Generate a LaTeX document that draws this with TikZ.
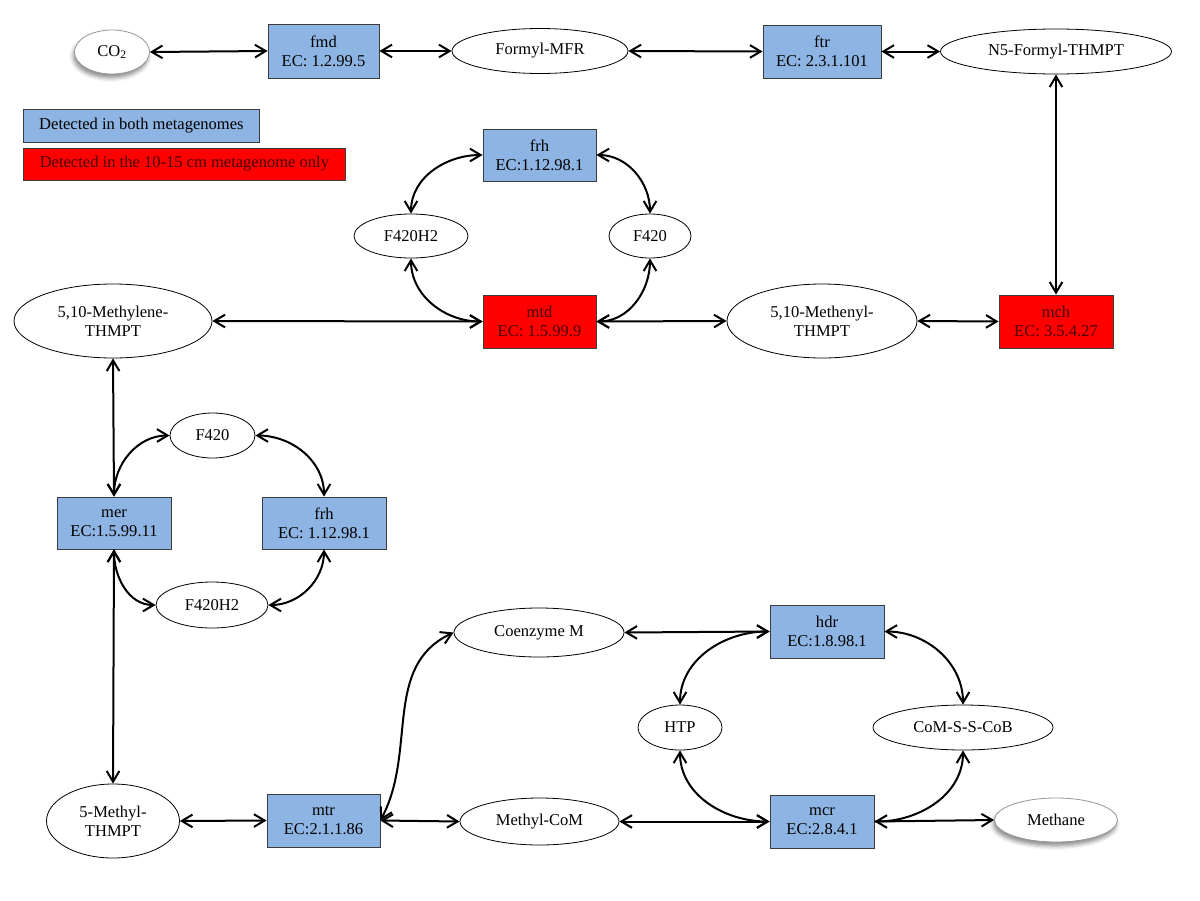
\documentclass[tikz,border=0pt]{standalone}
\usepackage{fontspec}
\setmainfont{Liberation Serif}
\usetikzlibrary{arrows.meta,shapes.geometric,shadows.blur}
\definecolor{bluefill}{RGB}{141,180,226}
\definecolor{boxline}{RGB}{60,60,60}
\definecolor{darkredtext}{RGB}{70,0,0}
\definecolor{softline}{RGB}{150,150,150}
\newcommand{\diagfont}{\fontsize{12.4}{14.5}\selectfont}
\tikzset{
  enz/.style={rectangle, draw=boxline, line width=0.6pt, inner sep=0pt, align=center, font=\diagfont},
  bluebox/.style={enz, fill=bluefill},
  redbox/.style={enz, fill=red, text=darkredtext},
  met/.style={ellipse, draw, line width=0.6pt, fill=white, inner sep=0pt, align=center, font=\diagfont},
  shadowmet/.style={met, draw=softline, blur shadow={shadow xshift=-1pt, shadow yshift=-3pt, shadow blur radius=3pt, shadow opacity=45}},
  legendbox/.style={rectangle, draw=boxline, line width=0.6pt, anchor=west, inner sep=0pt, font=\diagfont},
  con/.style={line width=1.5pt, <->},
  conone/.style={line width=1.5pt, ->},
}
\begin{document}
\begin{tikzpicture}[x=0.75pt,y=-0.75pt,>={Straight Barb[length=8pt,width=9.5pt]}]
\useasboundingbox (0,0) rectangle (1200,900);
% top row
\node[shadowmet, minimum width=56.25pt, minimum height=33pt] (co2) at (112,52) {CO\textsubscript{2}};
\node[bluebox, minimum width=83.25pt, minimum height=40.5pt] (fmd) at (323.5,51) {fmd\\EC: 1.2.99.5};
\node[met, minimum width=132pt, minimum height=33.75pt] (fmfr) at (540,51) {Formyl-MFR};
\node[bluebox, minimum width=88.5pt, minimum height=39.75pt] (ftr) at (822,51.5) {ftr\\EC: 2.3.1.101};
\node[met, minimum width=173.25pt, minimum height=33.75pt] (n5) at (1056,51.5) {N5-Formyl-THMPT};
% legend
\node[legendbox, fill=bluefill, minimum width=177pt, minimum height=24.75pt] (legblue) at (23,125.5) {Detected in both metagenomes};
\node[legendbox, fill=red, text=darkredtext, minimum width=241.5pt, minimum height=24pt] (legred) at (23,164) {Detected in the 10-15 cm metagenome only};
% upper cycle
\node[bluebox, minimum width=84.75pt, minimum height=39pt] (frhA) at (539.5,155) {frh\\EC:1.12.98.1};
\node[met, minimum width=85.5pt, minimum height=33pt] (f420h2A) at (411,236) {F420H2};
\node[met, minimum width=61.5pt, minimum height=33pt] (f420A) at (650,236) {F420};
\node[redbox, minimum width=84.75pt, minimum height=39.75pt] (mtd) at (539.5,321.5) {mtd\\EC: 1.5.99.9};
\node[met, minimum width=148.5pt, minimum height=55.5pt] (methylene) at (113,321) {5,10-Methylene-\\THMPT};
\node[met, minimum width=142.5pt, minimum height=55.5pt] (methenyl) at (822,321) {5,10-Methenyl-\\THMPT};
\node[redbox, minimum width=85.5pt, minimum height=39.75pt] (mch) at (1056,321.5) {mch\\EC: 3.5.4.27};
% lower-left cycle
\node[met, minimum width=63.75pt, minimum height=33.75pt] (f420B) at (212.5,435.5) {F420};
\node[bluebox, minimum width=85.5pt, minimum height=39pt] (mer) at (114,523) {mer\\EC:1.5.99.11};
\node[bluebox, minimum width=93pt, minimum height=39pt] (frhB) at (324,523) {frh\\EC: 1.12.98.1};
\node[met, minimum width=84pt, minimum height=34.5pt] (f420h2B) at (212,605) {F420H2};
% bottom
\node[met, minimum width=127.5pt, minimum height=36.75pt] (comM) at (539,632.5) {Coenzyme M};
\node[bluebox, minimum width=85.5pt, minimum height=39.75pt] (hdr) at (827,631.5) {hdr\\EC:1.8.98.1};
\node[met, minimum width=63pt, minimum height=33.75pt] (htp) at (680,727.5) {HTP};
\node[met, minimum width=135pt, minimum height=33.75pt] (comss) at (963,727.5) {CoM-S-S-CoB};
\node[met, minimum width=99.75pt, minimum height=55.5pt] (methyl5) at (113,821) {5-Methyl-\\THMPT};
\node[bluebox, minimum width=84.75pt, minimum height=39.75pt] (mtr) at (323.5,820.5) {mtr\\EC:2.1.1.86};
\node[met, minimum width=119.25pt, minimum height=35.25pt] (methylcom) at (539.5,821.5) {Methyl-CoM};
\node[bluebox, minimum width=78pt, minimum height=39.75pt] (mcr) at (822,821.5) {mcr\\EC:2.8.4.1};
\node[shadowmet, minimum width=92.25pt, minimum height=33pt] (methane) at (1056,820) {Methane};
% connectors: top row
\draw[con] (co2.east) -- (fmd.west);
\draw[con] (fmd.east) -- (fmfr.west);
\draw[con] (fmfr.east) -- (ftr.west);
\draw[con] (ftr.east) -- (n5.west);
\draw[con] (n5.south) -- (mch.north);
% middle row
\draw[con] (methylene.east) -- (mtd.west);
\draw[con] (mtd.east) -- (methenyl.west);
\draw[con] (methenyl.east) -- (mch.west);
% upper cycle
\draw[con] (frhA.west) to[out=180,in=90] (f420h2A.north);
\draw[con] (f420h2A.south) to[out=-90,in=180] (mtd.west);
\draw[con] (frhA.east) to[out=0,in=90] (f420A.north);
\draw[con] (f420A.south) to[out=-90,in=0] (mtd.east);
% left column
\draw[con] (methylene.south) -- (mer.north);
\draw[con] (mer.south) -- (methyl5.north);
% lower-left cycle
\draw[con] (mer.north) to[out=90,in=180] (f420B.west);
\draw[con] (f420B.east) to[out=0,in=90] (frhB.north);
\draw[con] (frhB.south) to[out=-90,in=0] (f420h2B.east);
\draw[con] (f420h2B.west) to[out=180,in=-90] (mer.south);
% bottom row
\draw[con] (methyl5.east) -- (mtr.west);
\draw[con] (mtr.east) -- (methylcom.west);
\draw[con] (mtr.east) to[out=62,in=205] (comM.west);
\draw[con] (comM.east) -- (hdr.west);
\draw[con] (methylcom.east) -- (mcr.west);
\draw[con] (hdr.west) to[out=180,in=90] (htp.north);
\draw[con] (htp.south) to[out=-90,in=180] (mcr.west);
\draw[con] (hdr.east) to[out=0,in=90] (comss.north);
\draw[con] (comss.south) to[out=-90,in=0] (mcr.east);
\draw[conone] (mcr.east) -- (methane.west);
\end{tikzpicture}
\end{document}
